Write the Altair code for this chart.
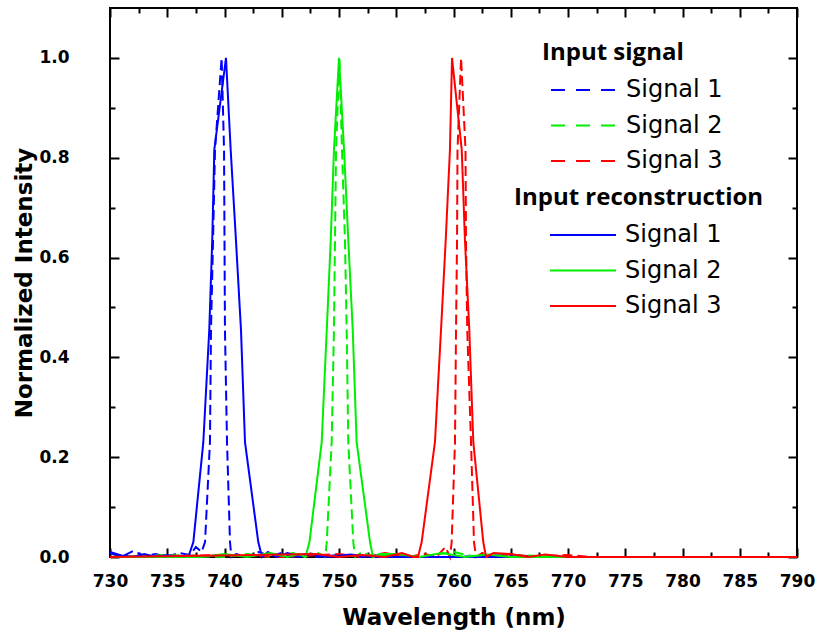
import altair as alt
import pandas as pd

# ---------------- data ----------------
labels = ["Signal 1", "Signal 2", "Signal 3"]
colors = ["#0000ff", "#00ee00", "#ff0000"]

# Input signal (dashed)
in1_wl = [730, 731, 732, 733, 734, 735, 736, 737, 737.5, 738.0, 738.3, 738.73, 738.82, 739.0, 739.17, 739.75,
          739.96, 740.0, 740.04, 740.22, 740.48, 740.6, 741, 742, 743, 744, 745, 746, 747, 748, 750, 752, 754,
          756, 760, 765, 768, 770, 790]
in1_val = [0.008, 0.0, 0.012, 0.002, 0.006, 0.0, 0.008, 0.004, 0.02, 0.01, 0.03, 0.23, 0.455, 0.635, 0.816, 1.0,
           0.816, 0.635, 0.455, 0.23, 0.03, 0.0, 0.006, 0.0, 0.01, 0.002, 0.008, 0.0, 0.006, 0.0, 0.004, 0.0, 0.006,
           0.0, 0.0, 0.004, 0.0, 0.0, 0.0]

in2_wl = [730, 735, 740, 742, 744, 746, 747, 748, 748.8, 748.93, 749.36, 749.56, 749.65, 749.74, 750.04, 750.26,
          750.52, 750.67, 750.81, 751.25, 751.4, 752, 753, 755, 757, 760, 762, 765, 770, 790]
in2_val = [0.0, 0.004, 0.0, 0.006, 0.0, 0.008, 0.0, 0.01, 0.0, 0.03, 0.23, 0.455, 0.635, 0.816, 1.0, 0.816,
           0.635, 0.455, 0.23, 0.03, 0.0, 0.01, 0.0, 0.006, 0.0, 0.01, 0.0, 0.004, 0.0, 0.0]

in3_wl = [730, 740, 745, 750, 752, 754, 756, 757.5, 758.5, 759.3, 759.69, 759.84, 760.13, 760.22, 760.31, 760.35,
          760.66, 761.05, 761.09, 761.2, 761.53, 761.79, 761.97, 762.5, 763.5, 765, 767, 770, 772, 790]
in3_val = [0.0, 0.004, 0.0, 0.006, 0.0, 0.008, 0.0, 0.006, 0.0, 0.02, 0.0, 0.03, 0.23, 0.455, 0.635, 0.816,
           1.0, 0.816, 0.635, 0.455, 0.23, 0.03, 0.0, 0.008, 0.0, 0.006, 0.0, 0.004, 0.0, 0.0]

# Input reconstruction (solid)
rc1_wl = [730, 731, 732, 733, 734, 735, 736, 736.84, 737.28, 738.15, 738.67, 738.93, 739.11, 740.13, 740.54,
          741.0, 741.44, 741.79, 742.95, 743.28, 743.8, 744.5, 745.5, 746.5, 747.5, 749, 751, 753, 755, 770, 790]
rc1_val = [0.01, 0.003, 0.0, 0.006, 0.0, 0.004, 0.0, 0.0, 0.03, 0.23, 0.455, 0.635, 0.816, 1.0, 0.816,
           0.635, 0.455, 0.23, 0.03, 0.0, 0.01, 0.0, 0.008, 0.0, 0.006, 0.0, 0.005, 0.0, 0.0, 0.0, 0.0]

rc2_wl = [730, 738, 740, 742, 744, 745.5, 746.5, 747.07, 747.42, 748.49, 748.93, 749.28, 749.56, 750.0, 750.44,
          750.81, 751.2, 751.54, 752.71, 752.97, 753.5, 755, 757, 759, 761, 763, 765, 790]
rc2_val = [0.0, 0.0, 0.006, 0.0, 0.008, 0.0, 0.006, 0.0, 0.03, 0.23, 0.455, 0.635, 0.816, 1.0, 0.816,
           0.635, 0.455, 0.23, 0.03, 0.0, 0.006, 0.006, 0.0, 0.008, 0.0, 0.005, 0.0, 0.0]

rc3_wl = [730, 748, 750, 752, 754, 755.5, 756.5, 756.9, 757.22, 758.38, 758.91, 759.32, 759.69, 759.87, 760.72,
          761.0, 761.38, 761.73, 762.6, 762.84, 763.5, 765, 766.5, 768, 770, 790]
rc3_val = [0.0, 0.006, 0.0, 0.004, 0.0, 0.008, 0.0, 0.0, 0.03, 0.23, 0.455, 0.635, 0.816, 1.0, 0.816,
           0.635, 0.455, 0.23, 0.03, 0.0, 0.008, 0.006, 0.0, 0.005, 0.0, 0.0]

# axis ticks
x_major = [730, 735, 740, 745, 750, 755, 760, 765, 770, 775, 780, 785, 790]
x_minor = [732.5, 737.5, 742.5, 747.5, 752.5, 757.5, 762.5, 767.5, 772.5, 777.5, 782.5, 787.5]
y_major = [0.0, 0.2, 0.4, 0.6, 0.8, 1.0]
y_minor = [0.1, 0.3, 0.5, 0.7, 0.9]


def build(pairs):
    frames = []
    for (wl, val), lab in zip(pairs, labels):
        assert len(wl) == len(val), (len(wl), len(val))
        frames.append(pd.DataFrame({"wl": wl, "val": val, "sig": lab}))
    return pd.concat(frames, ignore_index=True)


input_df = build([(in1_wl, in1_val), (in2_wl, in2_val), (in3_wl, in3_val)])
recon_df = build([(rc1_wl, rc1_val), (rc2_wl, rc2_val), (rc3_wl, rc3_val)])

xscale = alt.Scale(domain=[730, 790], nice=False, zero=False)
yscale = alt.Scale(domain=[0, 1.1], nice=False, zero=False)

TICK_FONT = "DejaVu Sans"
MAJ, MIN = 9, 5
LEG_SYMBOL = "M-3,0H3"   # a flat stroke, three times as long as the nominal symbol size


def tick_axis(orient, values, size, **kw):
    return alt.Axis(orient=orient, values=values, tickSize=size, offset=-size, domain=False,
                    grid=False, tickColor="black", tickWidth=2, **kw)


def ghost_axis(orient, values, size):
    return tick_axis(orient, values, size, labels=False, title=None)


def legend(title, lx, ly, sym_off, dash=None):
    kw = dict(title=title, orient="none", legendX=lx, legendY=ly,
              symbolType=LEG_SYMBOL, symbolSize=484, symbolStrokeWidth=2,
              symbolOffset=sym_off, labelOffset=30,
              labelFont="DejaVu Sans", labelFontSize=24, labelColor="black",
              titleFont="Open Sans", titleFontSize=24, titleFontWeight="bold",
              titleColor="black", titlePadding=13, titleLimit=400, rowPadding=11.5, padding=0)
    if dash:
        kw["symbolDash"] = dash
    return alt.Legend(**kw)


# main x / y axes with labels
x_main = alt.X("wl:Q", scale=xscale,
               axis=tick_axis("bottom", x_major, MAJ, labels=True, format="d",
                              labelFont=TICK_FONT, labelFontWeight="bold", labelFontSize=17,
                              labelColor="black", labelPadding=16, labelFlush=False,
                              labelOverlap=False, title="Wavelength (nm)", titleFont=TICK_FONT,
                              titleFontWeight="bold", titleFontSize=23, titleColor="black",
                              titlePadding=17))
y_main = alt.Y("val:Q", scale=yscale,
               axis=tick_axis("left", y_major, MAJ, labels=True, format=".1f",
                              labelFont=TICK_FONT, labelFontWeight="bold", labelFontSize=17,
                              labelColor="black", labelPadding=41, labelFlush=False,
                              labelOverlap=False, title="Normalized Intensity", titleFont=TICK_FONT,
                              titleFontWeight="bold", titleFontSize=23, titleColor="black",
                              titlePadding=2))

input_layer = alt.Chart(input_df).mark_line(strokeDash=[10, 5], strokeWidth=2).encode(
    x=x_main,
    y=y_main,
    color=alt.Color("sig:N", scale=alt.Scale(domain=labels, range=colors),
                    legend=legend("Input signal", 432, 33, 30, dash=[14, 11])),
)

recon_layer = alt.Chart(recon_df).mark_line(strokeWidth=2).encode(
    x=alt.X("wl:Q", scale=xscale, axis=None),
    y=alt.Y("val:Q", scale=yscale, axis=None),
    color=alt.Color("sig:N", scale=alt.Scale(domain=labels, range=colors),
                    legend=legend("Input reconstruction", 404, 178, 57)),
)

minor_layer = alt.Chart(input_df).mark_line(opacity=0).encode(
    x=alt.X("wl:Q", scale=xscale, axis=ghost_axis("bottom", x_minor, MIN)),
    y=alt.Y("val:Q", scale=yscale, axis=ghost_axis("left", y_minor, MIN)),
)
top_major_layer = alt.Chart(input_df).mark_line(opacity=0).encode(
    x=alt.X("wl:Q", scale=xscale, axis=ghost_axis("top", x_major, MAJ)),
    y=alt.Y("val:Q", scale=yscale, axis=ghost_axis("right", y_major, MAJ)),
)
top_minor_layer = alt.Chart(input_df).mark_line(opacity=0).encode(
    x=alt.X("wl:Q", scale=xscale, axis=ghost_axis("top", x_minor, MIN)),
    y=alt.Y("val:Q", scale=yscale, axis=ghost_axis("right", y_minor, MIN)),
)

chart = alt.layer(
    minor_layer, top_major_layer, top_minor_layer, input_layer, recon_layer
).resolve_scale(
    color="independent"
).resolve_axis(
    x="independent", y="independent"
).properties(
    width=687, height=549,
    autosize=alt.AutoSizeParams(type="none"),
    padding={"left": 110, "top": 8, "right": 22, "bottom": 86},
    background="white",
).configure_view(
    stroke="black", strokeWidth=2
)

chart.save("out.html", embed_options={"renderer": "svg", "actions": False})
